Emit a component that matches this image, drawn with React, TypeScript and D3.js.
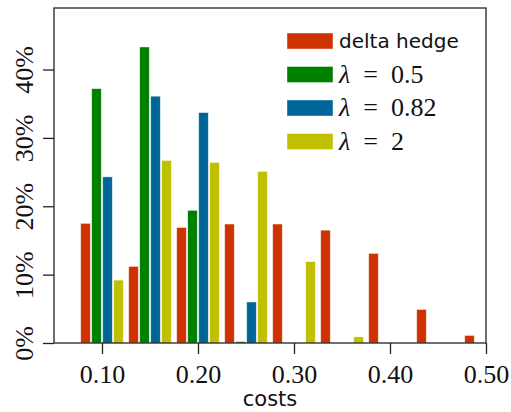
import React, { useEffect, useRef } from 'react'
import * as d3 from 'd3'

// cost bins (group centres) and share of paths per bin, in %
const bins = [0.1, 0.15, 0.2, 0.25, 0.3, 0.35, 0.4, 0.45, 0.5]
const deltaHedge = [17.5, 11.2, 16.9, 17.4, 17.4, 16.5, 13.1, 4.9, 1.1]
const lambda05 = [37.2, 43.3, 19.4, 0.2, 0, 0, 0, 0, 0]
const lambda082 = [24.3, 36.1, 33.7, 6.0, 0, 0, 0, 0, 0]
const lambda2 = [9.2, 26.7, 26.4, 25.1, 11.9, 0.9, 0, 0, 0]

const seriesNames = ['delta hedge', '0.5', '0.82', '2']
const seriesValues = [deltaHedge, lambda05, lambda082, lambda2]
const colors = ['#cc3300', '#008000', '#006699', '#c0c000']

const xTicks = [0.1, 0.2, 0.3, 0.4, 0.5]
const yTicks = [0, 10, 20, 30, 40]

const W = 511
const H = 412
const margin = { top: 8, right: 25, bottom: 69, left: 54 }
const serif = '"Liberation Serif", serif'

const draw = (el: SVGSVGElement) => {
    const svg = d3.select(el)
    svg.selectAll('*').remove()

    const x = d3.scaleLinear().domain([0.05, 0.5]).range([margin.left, W - margin.right])
    const y = d3.scaleLinear().domain([0, 49]).range([H - margin.bottom, margin.top])

    // offset of each series inside a bin
    const inner = d3
        .scaleBand<number>()
        .domain(d3.range(seriesNames.length))
        .range([-22, 22])
        .paddingInner(0.13)
        .paddingOuter(0.065)

    // Bars
    seriesValues.forEach((vals, si) => {
        svg.append('g')
            .selectAll('rect')
            .data(bins.map((b, i) => ({ b, v: vals[i] })).filter(d => d.v > 0))
            .enter()
            .append('rect')
            .attr('x', d => x(d.b) + (inner(si) as number))
            .attr('width', inner.bandwidth())
            .attr('y', d => y(d.v))
            .attr('height', d => y(0) - y(d.v))
            .attr('fill', colors[si])
            .attr('stroke', '#fff')
            .attr('stroke-opacity', 0.6)
            .attr('stroke-width', 0.7)
    })

    // Frame
    svg.append('rect')
        .attr('x', margin.left)
        .attr('y', margin.top)
        .attr('width', W - margin.left - margin.right)
        .attr('height', H - margin.top - margin.bottom)
        .attr('fill', 'none')
        .attr('stroke', '#222')
        .attr('stroke-width', 1.3)

    // x axis
    const xAxis = d3
        .axisBottom(x)
        .tickValues(xTicks)
        .tickSize(11)
        .tickSizeOuter(0)
        .tickFormat(d3.format('.2f'))
    const gx = svg.append('g').attr('transform', `translate(0,${y(0)})`).call(xAxis)
    gx.select('.domain').remove()
    gx.selectAll('line').attr('stroke', '#222').attr('stroke-width', 1.3)
    gx.selectAll('text')
        .attr('y', 40)
        .attr('dy', 0)
        .attr('fill', '#111')
        .style('font-family', serif)
        .style('font-size', '26px')

    // y axis
    const yAxis = d3
        .axisLeft(y)
        .tickValues(yTicks)
        .tickSize(11)
        .tickSizeOuter(0)
        .tickFormat(d => `${d}%`)
    const gy = svg.append('g').attr('transform', `translate(${margin.left},0)`).call(yAxis)
    gy.select('.domain').remove()
    gy.selectAll('line').attr('stroke', '#222').attr('stroke-width', 1.3)
    gy.selectAll('text')
        .attr('x', 0)
        .attr('dy', 0)
        .attr('transform', 'translate(-21,0) rotate(-90)')
        .attr('text-anchor', 'middle')
        .attr('fill', '#111')
        .style('font-family', serif)
        .style('font-size', '26px')

    // x label
    svg.append('text')
        .attr('x', (margin.left + W - margin.right) / 2)
        .attr('y', 406)
        .attr('text-anchor', 'middle')
        .attr('fill', '#111')
        .style('font-family', '"DejaVu Sans", sans-serif')
        .style('font-size', '21px')
        .text('costs')

    // Legend
    const legend = svg.append('g').attr('transform', 'translate(287,33)')
    seriesNames.forEach((name, i) => {
        const row = legend.append('g').attr('transform', `translate(0,${i * 33.5})`)
        row.append('rect')
            .attr('width', 46)
            .attr('height', 16)
            .attr('fill', colors[i])
            .attr('stroke', '#fff')
            .attr('stroke-opacity', 0.6)
            .attr('stroke-width', 0.7)
        if (i === 0) {
            row.append('text')
                .attr('x', 52)
                .attr('y', 15)
                .attr('fill', '#111')
                .style('font-family', '"DejaVu Sans", sans-serif')
                .style('font-size', '20px')
                .text(name)
        } else {
            const t = row.append('text')
                .attr('x', 52)
                .attr('y', 16)
                .attr('fill', '#111')
                .style('font-family', serif)
                .style('font-size', '26px')
                .style('white-space', 'pre')
            t.append('tspan')
                .style('font-family', serif)
                .style('font-style', 'italic')
                .text('λ')
            t.append('tspan').text('  =  ' + name)
        }
    })
}

export default function App() {
    const ref = useRef<SVGSVGElement>(null)
    useEffect(() => {
        if (ref.current) draw(ref.current)
    }, [])
    return (
        <svg
            ref={ref}
            width={W}
            height={H}
            style={{ position: 'absolute', left: 0, top: 0, background: '#fff' }}
        />
    )
}
